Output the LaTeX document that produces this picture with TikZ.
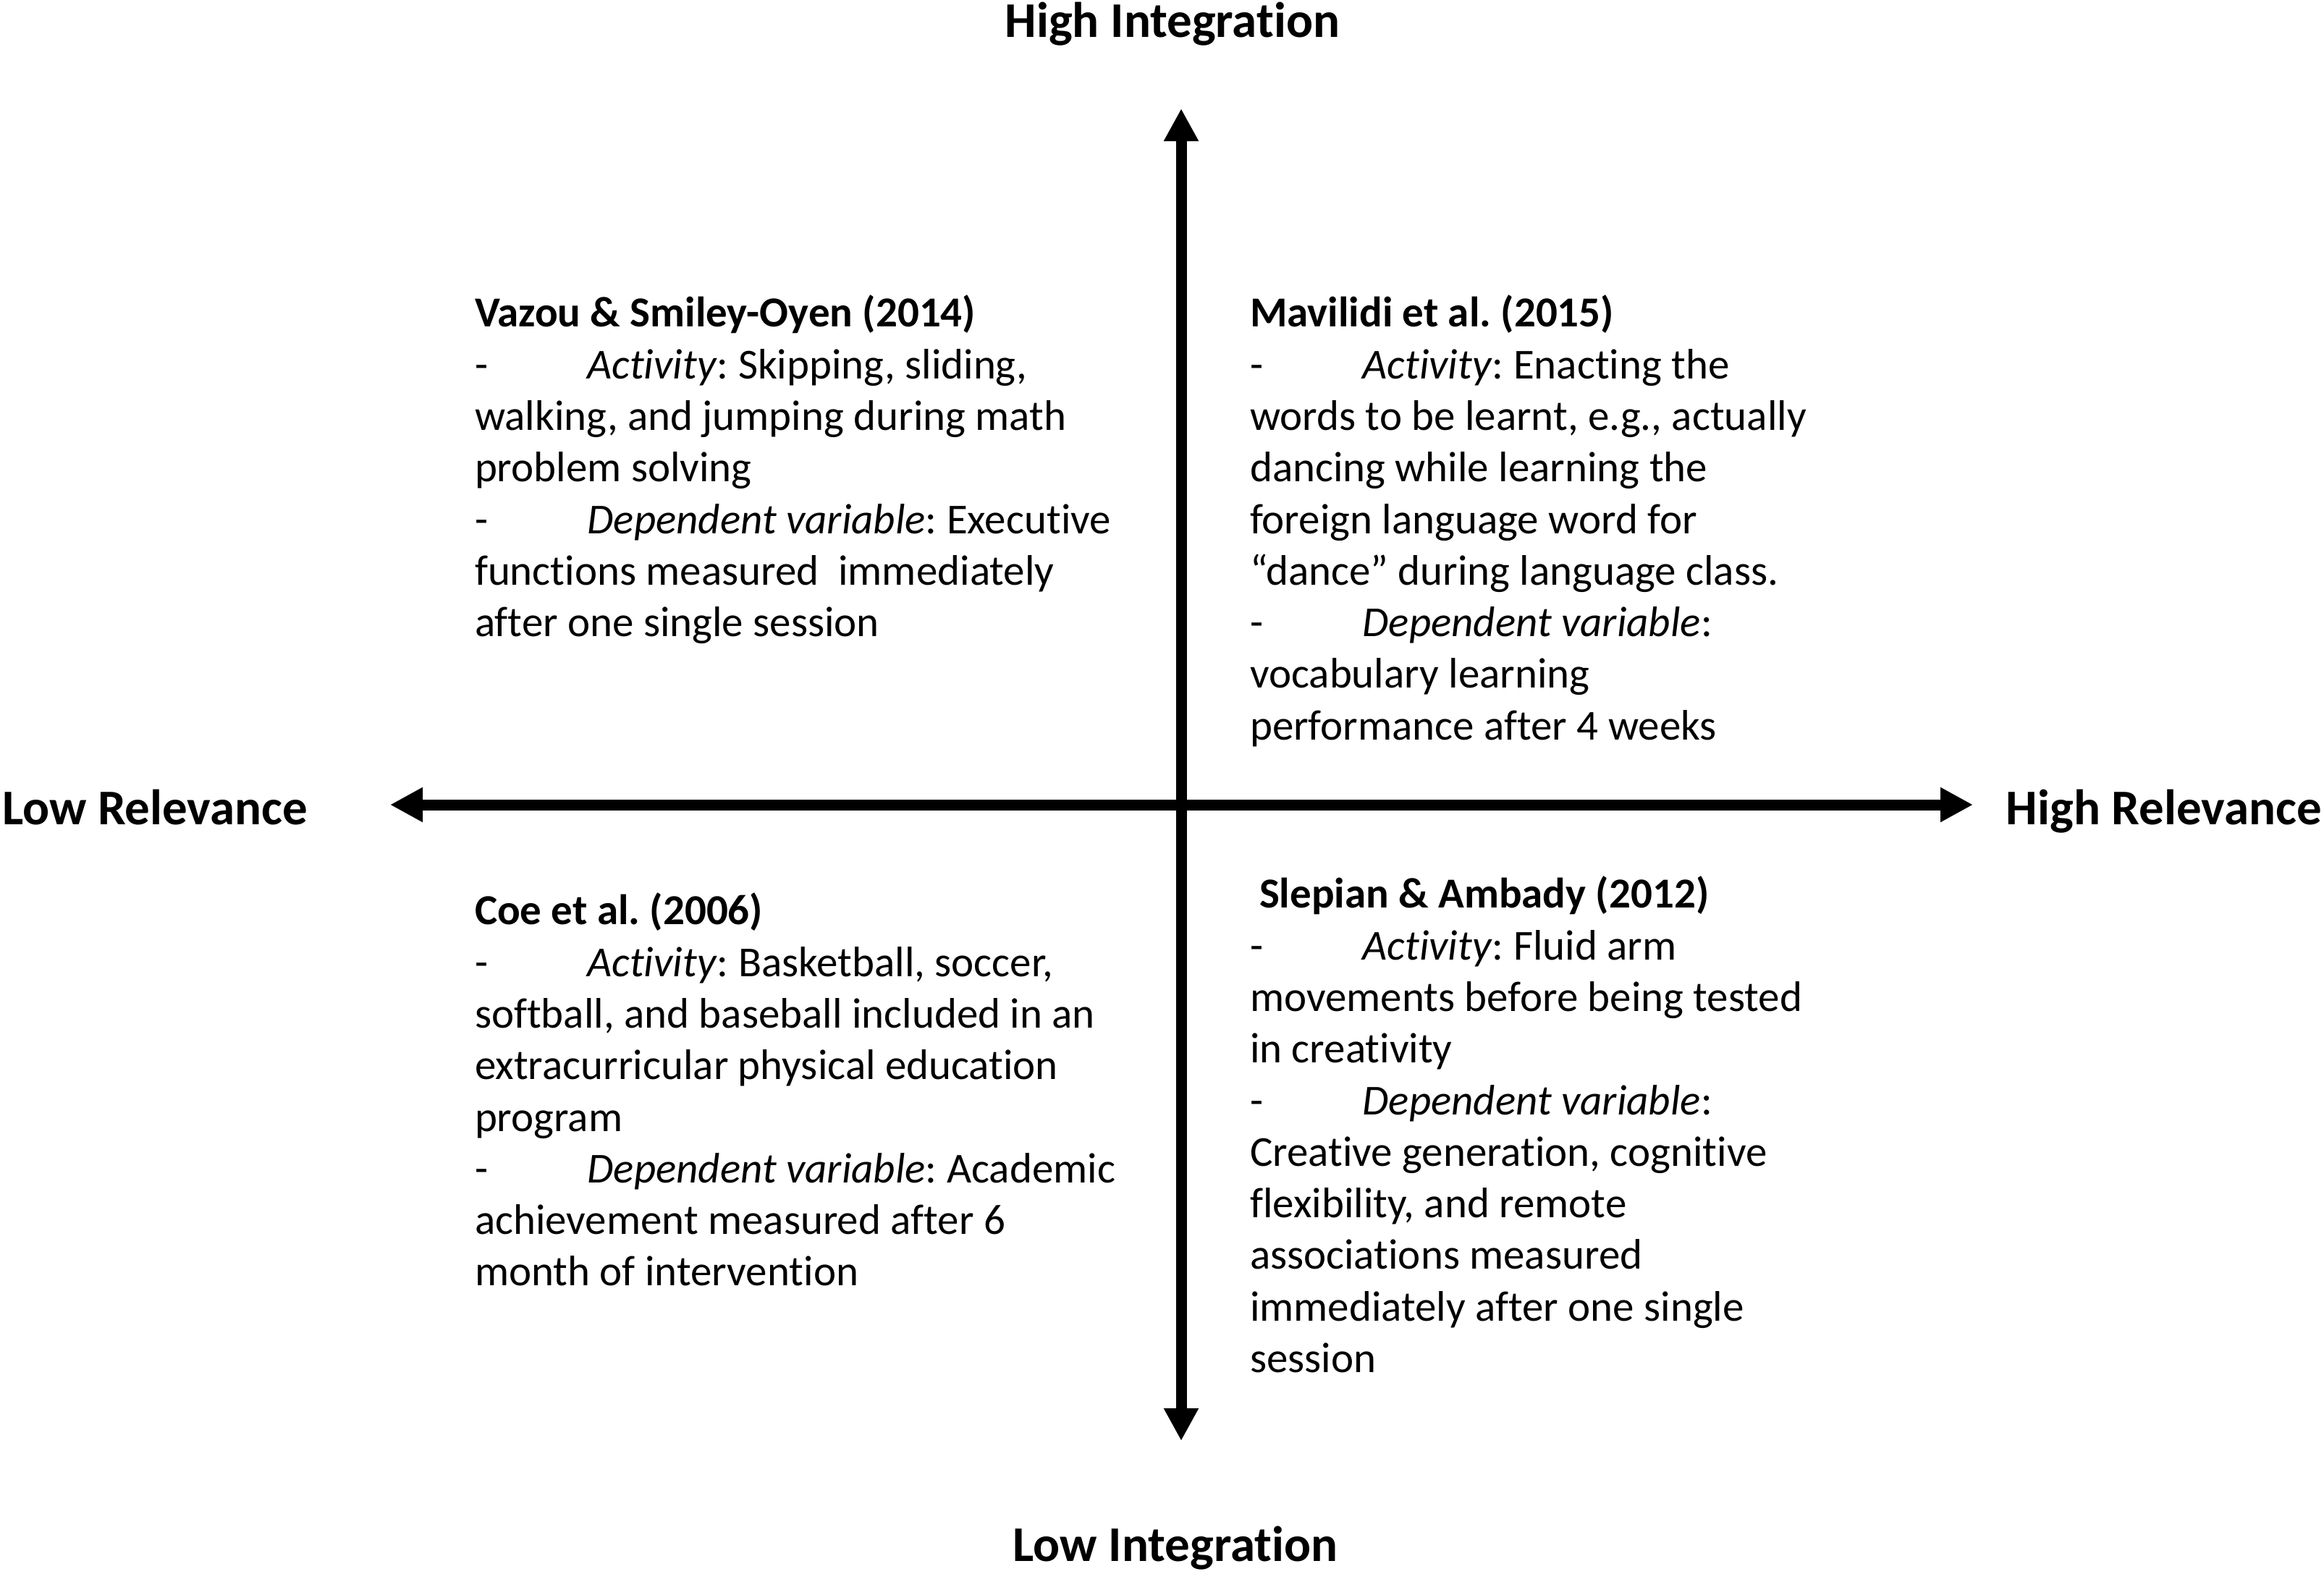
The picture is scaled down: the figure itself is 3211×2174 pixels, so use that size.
\documentclass[tikz,border=0pt]{standalone}
\usepackage{fontspec}
\setmainfont[Ligatures={TeX,NoCommon,NoContextual}]{Carlito}
\usepackage{tikz}
\usetikzlibrary{arrows.meta, positioning}
\frenchspacing

% dash followed by a tab stop, as in the quadrant lists
\newcommand{\tabdash}{\makebox[31.1pt][l]{-}}

\begin{document}
\begin{tikzpicture}[x=0.2pt, y=-0.2pt,
    axislabel/.style={font=\fontsize{13.8}{16.6}\selectfont\bfseries, inner sep=0pt},
    study/.style={anchor=north west, align=left, inner sep=0pt,
      font=\fontsize{11.8}{14.26}\selectfont, execute at begin node=\strut},
    axisline/.style={line width=3pt,
      {Triangle[length=9pt, width=9pt]}-{Triangle[length=9pt, width=9pt]}}]
  \useasboundingbox (0,0) rectangle (3211,2174);

  % Axes
  \coordinate (top) at (1632,150);
  \coordinate (bottom) at (1632,1991);
  \coordinate (left) at (539,1112);
  \coordinate (right) at (2726,1112);
  \draw[axisline] (bottom) -- (top);
  \draw[axisline] (left) -- (right);

  % Axis labels
  \node[axislabel, anchor=base] (highint) at (1620,51) {High Integration};
  \node[axislabel, anchor=base] (lowint) at (1624,2157) {Low Integration};
  \node[axislabel, anchor=base west] (lowrel) at (2,1139) {Low Relevance};
  \node[axislabel, anchor=base east] (highrel) at (3209,1139) {High Relevance};

  % Low relevance, high integration
  \node[study] (vazou) at (655,407) {
    \textbf{Vazou \& Smiley-Oyen (2014)}\\
    \tabdash\textit{Activity}: Skipping, sliding,\\
    walking, and jumping during math\\
    problem solving\\
    \tabdash\textit{Dependent variable}: Executive\\
    functions measured\ \ immediately\\
    after one single session
  };

  % High relevance, high integration
  \node[study] (mavilidi) at (1726,407) {
    \textbf{Mavilidi et al. (2015)}\\
    \tabdash\textit{Activity}: Enacting the\\
    words to be learnt, e.g., actually\\
    dancing while learning the\\
    foreign language word for\\
    “dance” during language class.\\
    \tabdash\textit{Dependent variable}:\\
    vocabulary learning\\
    performance after 4 weeks
  };

  % Low relevance, low integration
  \node[study] (coe) at (655,1233) {
    \textbf{Coe et al. (2006)}\\
    \tabdash\textit{Activity}: Basketball, soccer,\\
    softball, and baseball included in an\\
    extracurricular physical education\\
    program\\
    \tabdash\textit{Dependent variable}: Academic\\
    achievement measured after 6\\
    month of intervention
  };

  % High relevance, low integration
  \node[study] (slepian) at (1726,1210) {
    \hspace*{2.6pt}\textbf{Slepian \& Ambady (2012)}\\
    \tabdash\textit{Activity}: Fluid arm\\
    movements before being tested\\
    in creativity\\
    \tabdash\textit{Dependent variable}:\\
    Creative generation, cognitive\\
    flexibility, and remote\\
    associations measured\\
    immediately after one single\\
    session
  };
\end{tikzpicture}
\end{document}
